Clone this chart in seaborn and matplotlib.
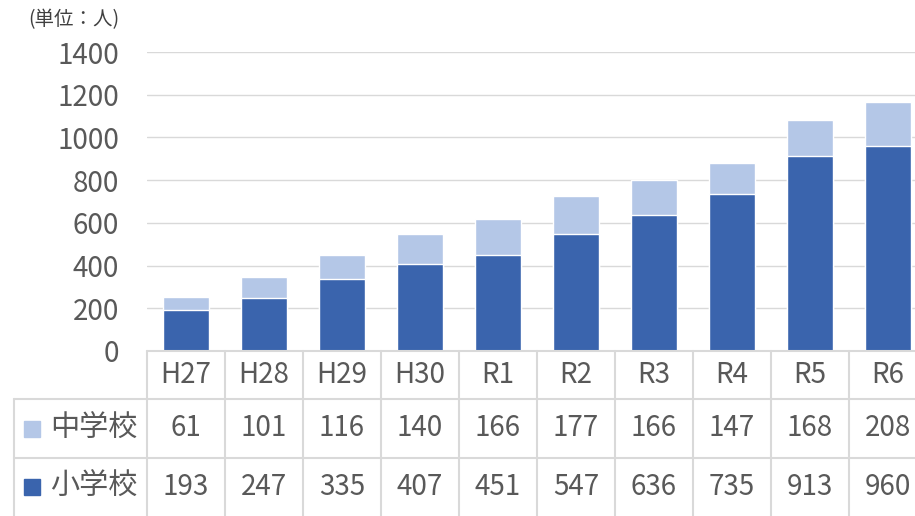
import matplotlib
matplotlib.use('Agg')
import matplotlib.pyplot as plt
import numpy as np
import pandas as pd
import seaborn as sns

# data
years = ['H27', 'H28', 'H29', 'H30', 'R1', 'R2', 'R3', 'R4', 'R5', 'R6']
junior_high = [61, 101, 116, 140, 166, 177, 166, 147, 168, 208]   # 中学校
elementary = [193, 247, 335, 407, 451, 547, 636, 735, 913, 960]   # 小学校
row_labels = ['中学校', '小学校']
y_ticks = [0, 200, 400, 600, 800, 1000, 1200, 1400]

df = pd.DataFrame({'year': years, 'jhs': junior_high, 'es': elementary})
df['total'] = df['jhs'] + df['es']

sns.set_theme(style="white")
plt.rcParams['font.family'] = ['Noto Sans CJK JP', 'DejaVu Sans']

light = '#B4C7E7'
dark = '#3A64AD'
grid_c = '#D9D9D9'
text_c = '#595959'
fs = 20

W, H = 915, 516
left, colw = 147, 78
y0, y1 = 351, 52

fig = plt.figure(figsize=(W / 100, H / 100), dpi=100)
ax = fig.add_axes([left / W, 1 - y0 / H, colw * len(years) / W, (y0 - y1) / H])

sns.barplot(data=df, x='year', y='total', color=light, width=0.59, saturation=1, ax=ax)
sns.barplot(data=df, x='year', y='es', color=dark, width=0.59, saturation=1, ax=ax)

ax.set_xlim(-0.5, len(years) - 0.5)
ax.set_ylim(0, 1400)
ax.set_yticks(y_ticks)
ax.set_yticklabels([str(v) for v in y_ticks], fontsize=fs, color=text_c)
ax.tick_params(axis='y', length=0, pad=20)
ax.set_xticks([])
ax.set_xlabel('')
ax.set_ylabel('')
ax.yaxis.grid(True, color=grid_c, lw=1)
ax.set_axisbelow(True)
for s in ax.spines.values():
    s.set_visible(False)

# data table below the plot, drawn in pixel coordinates
ov = fig.add_axes([0, 0, 1, 1], zorder=5)
ov.set_xlim(0, W)
ov.set_ylim(H, 0)
ov.axis('off')

right = left + colw * len(years)
r_head, r1, r2, r_end = y0, 399, 458, 520
lw = 1.5
ov.plot([left, right], [r_head, r_head], color=grid_c, lw=lw)
ov.plot([14, right], [r1, r1], color=grid_c, lw=lw)
ov.plot([14, right], [r2, r2], color=grid_c, lw=lw)
ov.plot([14, 14], [r1, r_end], color=grid_c, lw=lw)
for k in range(len(years) + 1):
    ov.plot([left + k * colw] * 2, [r_head, r_end], color=grid_c, lw=lw)

rows = [junior_high, elementary]
row_cy = [(r1 + r2) / 2, (r2 + r_end - 4) / 2]
for i, yr in enumerate(years):
    cx = left + colw * (i + 0.5)
    ov.text(cx, (r_head + r1) / 2, yr, ha='center', va='center', fontsize=fs, color=text_c)
    for vals, cy in zip(rows, row_cy):
        ov.text(cx, cy, str(vals[i]), ha='center', va='center', fontsize=fs, color=text_c)

for lab, col, cy in zip(row_labels, [light, dark], row_cy):
    ov.add_patch(plt.Rectangle((24, cy - 8), 16, 16, color=col))
    ov.text(50, cy, lab, ha='left', va='center', fontsize=21, color=text_c)

ov.text(74, 20, '(単位：人)', ha='center', va='center', fontsize=14, color='#404040')

fig.savefig('out.png', dpi=100)
